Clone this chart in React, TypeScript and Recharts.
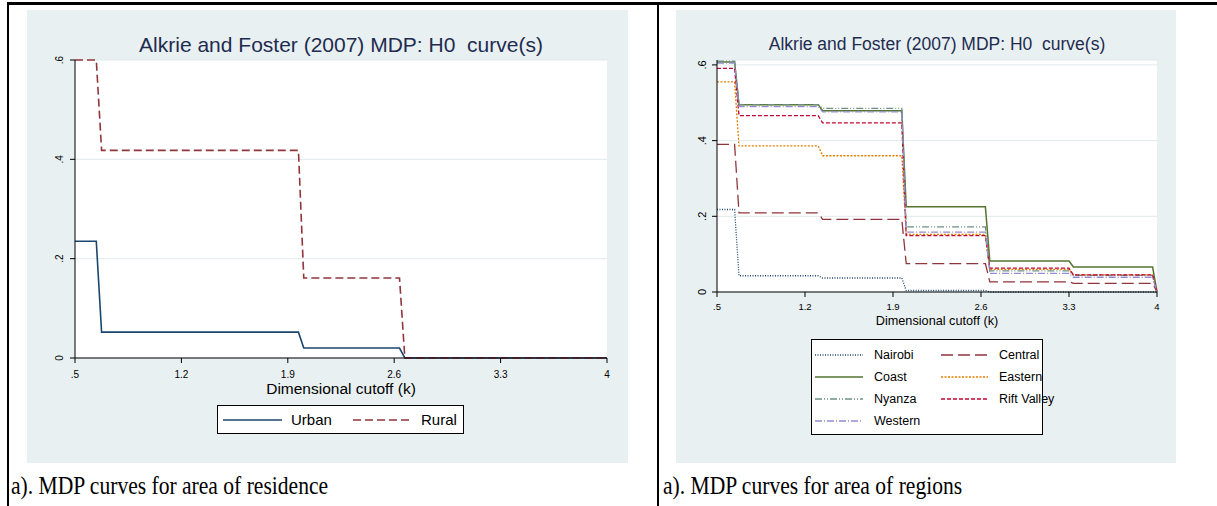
import React from 'react';
import { LineChart, Line, XAxis, YAxis, CartesianGrid } from 'recharts';

// left chart: area of residence
const K_LEFT = [0.5, 0.64, 0.675, 1.97, 2.005, 2.635, 2.67, 4];
const URBAN = [0.235, 0.235, 0.052, 0.052, 0.02, 0.02, 0, 0];
const RURAL = [0.6, 0.6, 0.418, 0.418, 0.161, 0.161, 0, 0];

// right chart: regions
const K_RIGHT = [0.5, 0.64, 0.675, 1.305, 1.34, 1.97, 2.005, 2.635, 2.67, 3.3, 3.335, 3.965, 4];
const NAIROBI = [0.218, 0.218, 0.043, 0.043, 0.037, 0.037, 0.004, 0.004, 0, 0, 0, 0, 0];
const CENTRAL = [0.39, 0.39, 0.209, 0.209, 0.192, 0.192, 0.075, 0.075, 0.027, 0.027, 0.023, 0.023, 0];
const COAST = [0.608, 0.608, 0.495, 0.495, 0.479, 0.479, 0.225, 0.225, 0.082, 0.082, 0.066, 0.066, 0];
const EASTERN = [0.555, 0.555, 0.386, 0.386, 0.36, 0.36, 0.152, 0.152, 0.06, 0.06, 0.045, 0.045, 0];
const NYANZA = [0.61, 0.61, 0.495, 0.495, 0.485, 0.485, 0.172, 0.172, 0.056, 0.056, 0.044, 0.044, 0];
const RIFT_VALLEY = [0.591, 0.591, 0.466, 0.466, 0.447, 0.447, 0.149, 0.149, 0.063, 0.063, 0.045, 0.045, 0];
const WESTERN = [0.605, 0.605, 0.49, 0.49, 0.476, 0.476, 0.158, 0.158, 0.049, 0.049, 0.039, 0.039, 0];

const X_TICKS = [0.5, 1.2, 1.9, 2.6, 3.3, 4];
const Y_TICKS = [0, 0.2, 0.4, 0.6];

const TITLE = 'Alkrie and Foster (2007) MDP: H0  curve(s)';
const X_TITLE = 'Dimensional cutoff (k)';
const CAPTIONS = ['a). MDP curves for area of residence', 'a). MDP curves for area of regions'];

const LEFT_NAMES = ['Urban', 'Rural'];
const RIGHT_NAMES = ['Nairobi', 'Central', 'Coast', 'Eastern', 'Nyanza', 'Rift Valley', 'Western'];

const leftData = K_LEFT.map((k, i) => ({ k, Urban: URBAN[i], Rural: RURAL[i] }));
const rightSeries = [NAIROBI, CENTRAL, COAST, EASTERN, NYANZA, RIFT_VALLEY, WESTERN];
const rightData = K_RIGHT.map((k, i) => {
  const row: Record<string, number> = { k };
  RIGHT_NAMES.forEach((n, j) => (row[n] = rightSeries[j][i]));
  return row;
});

type Sty = { color: string; dash?: string; width: number };
const STYLES: Record<string, Sty> = {
  Urban: { color: '#1a476f', width: 1.6 },
  Rural: { color: '#90353b', dash: '8 4', width: 1.6 },
  Nairobi: { color: '#1a476f', dash: '1 1.5', width: 1.3 },
  Central: { color: '#90353b', dash: '12 5', width: 1.3 },
  Coast: { color: '#55752f', width: 1.5 },
  Eastern: { color: '#e37e00', dash: '2 1.5', width: 1.3 },
  Nyanza: { color: '#6e8e84', dash: '7 2 1 2 1 2', width: 1.3 },
  'Rift Valley': { color: '#c10534', dash: '4 2', width: 1.3 },
  Western: { color: '#938dd2', dash: '7 2 1 2', width: 1.3 },
};

const PANEL = '#e9f0f2';
const GRID = '#dfe9ec';
const SANS = '"Liberation Sans", Arial, sans-serif';
const SERIF = '"Liberation Serif", "Times New Roman", serif';

const fmt = (v: number) => (v === 0 ? '0' : v < 1 ? String(v).replace(/^0/, '') : String(v));

function YTick(props: any) {
  const { x, y, payload, fs } = props;
  return (
    <text x={x} y={y} transform={`rotate(-90 ${x} ${y})`} textAnchor="middle" fontSize={fs} fontFamily={SANS} fill="#000">
      {fmt(payload.value)}
    </text>
  );
}

function Txt({ cx, cy, size, children, color = '#000', family = SANS }: any) {
  return (
    <div
      style={{
        position: 'absolute',
        left: cx - 300,
        width: 600,
        top: cy - size * 0.6,
        lineHeight: `${size * 1.2}px`,
        fontSize: size,
        textAlign: 'center',
        fontFamily: family,
        color,
        whiteSpace: 'pre',
      }}
    >
      {children}
    </div>
  );
}

function LegendItem({ name, x1, x2, tx, cy, size }: any) {
  const s = STYLES[name];
  return (
    <>
      <svg style={{ position: 'absolute', left: x1, top: cy - 3 }} width={x2 - x1} height={6}>
        <line x1={0} y1={3} x2={x2 - x1} y2={3} stroke={s.color} strokeWidth={s.width} strokeDasharray={s.dash} />
      </svg>
      <div
        style={{
          position: 'absolute',
          left: tx,
          top: cy - size * 0.6,
          lineHeight: `${size * 1.2}px`,
          fontSize: size,
          fontFamily: SANS,
          color: '#000',
          whiteSpace: 'pre',
        }}
      >
        {name}
      </div>
    </>
  );
}

function Box({ l, t, r, b }: any) {
  return (
    <div
      style={{
        position: 'absolute',
        left: l,
        top: t,
        width: r - l,
        height: b - t,
        boxSizing: 'border-box',
        border: '1px solid #000',
        background: '#fff',
      }}
    />
  );
}

function Caption({ left, children }: any) {
  return (
    <div
      style={{
        position: 'absolute',
        left,
        top: 474,
        fontFamily: SERIF,
        fontSize: 22,
        lineHeight: '26px',
        whiteSpace: 'pre',
        transform: 'scale(0.98, 1.18)',
        transformOrigin: '0 21px',
      }}
    >
      {children}
    </div>
  );
}

function axisProps(fs: number) {
  return {
    axisLine: { stroke: '#000', strokeWidth: 1 },
    tickLine: { stroke: '#000', strokeWidth: 1 },
    tickSize: 5,
    tick: { fill: '#000', fontSize: fs, fontFamily: SANS },
  };
}

export default function App() {
  return (
    <div style={{ position: 'absolute', left: 0, top: 0, width: 1217, height: 506, background: '#fff', overflow: 'hidden' }}>
      {/* table borders */}
      <div style={{ position: 'absolute', left: 7, top: 2, width: 1210, height: 3, background: '#000' }} />
      <div style={{ position: 'absolute', left: 7, top: 2, width: 2, height: 504, background: '#000' }} />
      <div style={{ position: 'absolute', left: 657, top: 2, width: 2, height: 504, background: '#000' }} />

      {/* left panel */}
      <div style={{ position: 'absolute', left: 27, top: 10, width: 601, height: 453, background: PANEL }}>
        <LineChart width={601} height={453} data={leftData} margin={{ top: 50, right: 21, bottom: 75, left: 18 }}>
          <CartesianGrid fill="#fff" stroke={GRID} vertical={false} />
          <XAxis
            dataKey="k"
            type="number"
            domain={[0.5, 4]}
            ticks={X_TICKS}
            tickFormatter={fmt}
            height={30}
            tickMargin={8}
            {...axisProps(10)}
          />
          <YAxis
            type="number"
            domain={[0, 0.6]}
            ticks={Y_TICKS}
            width={30}
            tickMargin={7}
            {...axisProps(10)}
            tick={<YTick fs={10} />}
          />
          {LEFT_NAMES.map((n) => (
            <Line
              key={n}
              dataKey={n}
              type="linear"
              stroke={STYLES[n].color}
              strokeWidth={STYLES[n].width}
              strokeDasharray={STYLES[n].dash}
              dot={false}
              isAnimationActive={false}
            />
          ))}
        </LineChart>
      </div>
      <Txt cx={341} cy={45} size={21} color="#1e2c50">{TITLE}</Txt>
      <Txt cx={341} cy={389} size={15.5}>{X_TITLE}</Txt>
      <Box l={217} t={405} r={464} b={434} />
      <LegendItem name="Urban" x1={223} x2={282} tx={291} cy={420} size={15} />
      <LegendItem name="Rural" x1={353} x2={412} tx={421} cy={420} size={15} />

      {/* right panel */}
      <div style={{ position: 'absolute', left: 676, top: 10, width: 500, height: 453, background: PANEL }}>
        <LineChart width={500} height={453} data={rightData} margin={{ top: 50, right: 19, bottom: 141, left: 11 }}>
          <CartesianGrid fill="#fff" stroke={GRID} vertical={false} />
          <XAxis
            dataKey="k"
            type="number"
            domain={[0.5, 4]}
            ticks={X_TICKS}
            tickFormatter={fmt}
            height={30}
            tickMargin={6}
            {...axisProps(9.5)}
          />
          <YAxis
            type="number"
            domain={[0, 0.613]}
            ticks={Y_TICKS}
            width={30}
            tickMargin={6}
            {...axisProps(11)}
            tick={<YTick fs={11} />}
          />
          {RIGHT_NAMES.map((n) => (
            <Line
              key={n}
              dataKey={n}
              type="linear"
              stroke={STYLES[n].color}
              strokeWidth={STYLES[n].width}
              strokeDasharray={STYLES[n].dash}
              dot={false}
              isAnimationActive={false}
            />
          ))}
        </LineChart>
      </div>
      <Txt cx={937} cy={44} size={17.5} color="#1e2c50">{TITLE}</Txt>
      <Txt cx={937} cy={322} size={12.7}>{X_TITLE}</Txt>
      <Box l={811} t={339} r={1043} b={435} />
      {RIGHT_NAMES.map((n, i) => {
        const col = i % 2;
        const row = Math.floor(i / 2);
        return (
          <LegendItem
            key={n}
            name={n}
            x1={col ? 941 : 815}
            x2={col ? 988 : 863}
            tx={col ? 999 : 874}
            cy={355 + row * 22}
            size={12.5}
          />
        );
      })}

      {/* captions */}
      <Caption left={11}>{CAPTIONS[0]}</Caption>
      <Caption left={663}>{CAPTIONS[1]}</Caption>
    </div>
  );
}
